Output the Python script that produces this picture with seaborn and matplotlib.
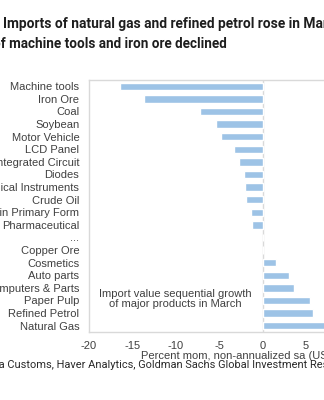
import matplotlib
matplotlib.use("Agg")
import matplotlib.pyplot as plt
import seaborn as sns
import pandas as pd
from matplotlib.ticker import FixedLocator

categories = ["Machine tools", "Iron Ore", "Coal", "Soybean", "Motor Vehicle",
              "LCD Panel", "Integrated Circuit", "Diodes", "Medical Instruments",
              "Crude Oil", "Plastics in Primary Form", "Pharmaceutical", "...",
              "Copper Ore", "Cosmetics", "Auto parts", "Computers & Parts",
              "Paper Pulp", "Refined Petrol", "Natural Gas"]
values = [-16.4, -13.7, -7.2, -5.4, -4.8, -3.3, -2.7, -2.1, -2.0, -1.9,
          -1.3, -1.2, 0.0, 0.0, 1.5, 3.1, 3.6, 5.5, 5.8, 8.5]
xticks = [-20, -15, -10, -5, 0, 5, 10]

title1 = "Imports of natural gas and refined petrol rose in March"
title2 = "of machine tools and iron ore declined"
source = "Source: China Customs, Haver Analytics, Goldman Sachs Global Investment Research"
note = "Import value sequential growth\nof major products in March"
xlabel = "Percent mom, non-annualized sa (US$)"

sns.set_style("white")
plt.rcParams['font.family'] = ['Liberation Sans', 'DejaVu Sans']

W, H = 324, 400
fig = plt.figure(figsize=(W / 100, H / 100), dpi=100)
fig.patch.set_facecolor("white")

# axes extends beyond right edge (reference is cropped)
left_px, right_px, top_px, bot_px = 89, 349.3, 80, 332
ax = fig.add_axes([left_px / W, 1 - bot_px / H, (right_px - left_px) / W, (bot_px - top_px) / H])

df = pd.DataFrame({"cat": categories, "val": values})
sns.barplot(data=df, x="val", y="cat", orient="h", color="#9dc3e6",
            saturation=1, width=0.58, ax=ax)

ax.set_xlim(-20, 10)
ax.set_ylim(len(categories) - 0.5, -0.5)
ax.set_xticks(xticks)
ax.set_xticklabels([str(t) for t in xticks])
ax.set_xlabel("")
ax.set_ylabel("")

grey = "#d9d9d9"
for s in ["left", "bottom", "top"]:
    ax.spines[s].set_visible(True)
    ax.spines[s].set_color(grey)
    ax.spines[s].set_linewidth(1.0)
ax.spines["right"].set_visible(False)
ax.axvline(0, color=grey, lw=1.0, zorder=0.5)

ax.tick_params(axis="y", which="major", length=0, pad=7, labelsize=8, labelcolor="#404040")
ax.yaxis.set_minor_locator(FixedLocator([i + 0.5 for i in range(-1, len(categories))]))
ax.tick_params(axis="y", which="minor", length=3, color=grey, direction="out")
ax.tick_params(axis="x", which="major", length=5, color=grey, direction="inout",
               labelsize=8, labelcolor="#404040", pad=4)

ax.text(-10, 16.9, note, ha="center", va="center", fontsize=8, color="#404040",
        linespacing=1.05)

fig.text(140.7 / W, 1 - 356 / H, xlabel, ha="left", va="center", fontsize=8, color="#404040")

renderer = fig.canvas.get_renderer()

def width_px(s, **kw):
    t = fig.text(0, 0, s, **kw)
    w = t.get_window_extent(renderer).width
    t.remove()
    return w

# Title (two lines, each fitted to the reference's span)
tfont = dict(family=["Roboto", "DejaVu Sans"], fontweight="bold", color="#1e1e1e")
w1 = width_px("Imports of natural gas and refined petrol rose in", fontsize=10, **tfont)
fs1 = 10 * 297 / w1
fig.text(3 / W, 1 - 28 / H, title1, ha="left", va="baseline", fontsize=fs1, **tfont)
w2 = width_px("machine tools and iron ore declined", fontsize=10, **tfont)
fs2 = 10 * 217 / w2
off = width_px("of ", fontsize=fs2, **tfont)
fig.text((9 - off) / W, 1 - 47.5 / H, title2, ha="left", va="baseline", fontsize=fs2, **tfont)

# Source
sfont = dict(family=["Roboto", "DejaVu Sans"], color="#2a2a2a")
w = width_px("Customs, Haver Analytics, Goldman Sachs Global Investment", fontsize=8, **sfont)
sfs = 8 * 298 / w
off = width_px("Source: China ", fontsize=sfs, **sfont)
fig.text((7 - off) / W, 1 - 368 / H, source, ha="left", va="baseline", fontsize=sfs, **sfont)

fig.savefig("out.png", dpi=100, facecolor="white")
